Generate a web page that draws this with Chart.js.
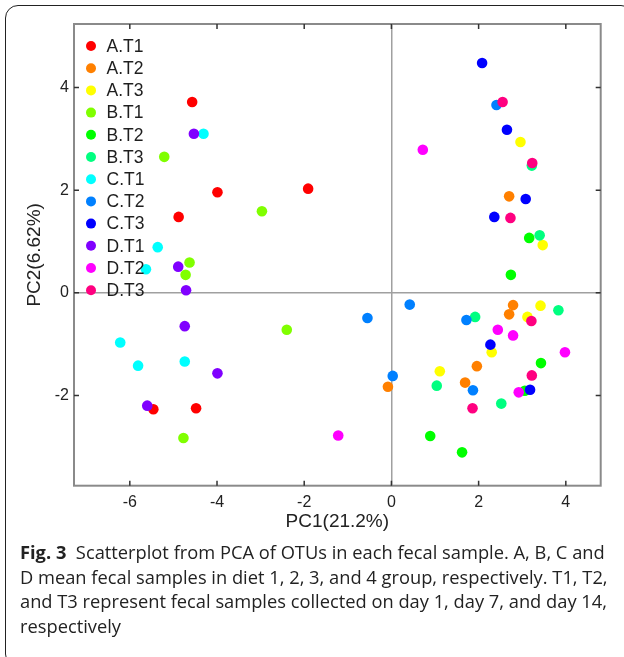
<!DOCTYPE html>
<html>
<head>
<meta charset="utf-8">
<script src="https://cdn.jsdelivr.net/npm/chart.js@4.4.1/dist/chart.umd.min.js"></script>
<style>
  html, body { margin: 0; padding: 0; background: #fff; }
  body { width: 624px; height: 657px; position: relative; overflow: hidden; }
  .frame {
    position: absolute; left: 5px; top: 5px; width: 629px; height: 662px;
    border: 1.5px solid #222; border-radius: 13px; box-sizing: border-box;
  }
  .plot { position: absolute; left: 0; top: 0; width: 624px; height: 540px; }
  .cap {
    position: absolute; left: 20px; top: 540px; width: 604px;
    font-family: "Open Sans", sans-serif; font-size: 18.3px; line-height: 24.7px;
    color: #222; white-space: nowrap;
  }
  .cap b { font-weight: 700; }
</style>
</head>
<body>
<div class="frame"></div>
<div class="plot"><canvas id="chart"></canvas></div>
<div class="cap"><b>Fig. 3</b>&nbsp; Scatterplot from PCA of OTUs in each fecal sample. A, B, C and<br>D mean fecal samples in diet 1, 2, 3, and 4 group, respectively. T1, T2,<br>and T3 represent fecal samples collected on day 1, day 7, and day 14,<br>respectively</div>
<script>
const groups = ['A.T1', 'A.T2', 'A.T3', 'B.T1', 'B.T2', 'B.T3', 'C.T1', 'C.T2', 'C.T3', 'D.T1', 'D.T2', 'D.T3'];
const colors = ['#ff0000', '#ff8000', '#ffff00', '#80ff00', '#00ff00', '#00ff80',
                '#00ffff', '#0080ff', '#0000ff', '#8000ff', '#ff00ff', '#ff0080'];

// PC1 / PC2 scores, one array per group (6 samples each)
const pc1 = [
    [-4.57, -3.99, -1.91, -4.88, -5.46, -4.48],   // A.T1
    [2.70, 2.79, 2.70, 1.96, -0.08, 1.69],        // A.T2
    [2.96, 3.47, 3.42, 3.12, 2.30, 1.11],         // A.T3
    [-5.21, -2.97, -4.63, -4.72, -2.40, -4.77],   // B.T1
    [3.16, 2.74, 3.43, 3.06, 0.89, 1.62],         // B.T2
    [3.22, 3.40, 3.83, 1.92, 1.04, 2.52],         // B.T3
    [-4.31, -5.36, -5.63, -6.22, -5.81, -4.74],   // C.T1
    [2.41, 0.42, -0.55, 1.72, 0.03, 1.87],        // C.T2
    [2.08, 2.65, 3.08, 2.36, 2.27, 3.18],         // C.T3
    [-4.53, -4.89, -4.71, -4.74, -3.99, -5.60],   // D.T1
    [0.72, 2.44, 2.79, 3.98, 2.92, -1.22],        // D.T2
    [2.55, 3.23, 2.73, 3.21, 3.22, 1.86]          // D.T3
];
const pc2 = [
    [3.72, 1.96, 2.03, 1.48, -2.27, -2.25],
    [1.88, -0.24, -0.42, -1.43, -1.83, -1.75],
    [2.94, 0.93, -0.25, -0.47, -1.16, -1.53],
    [2.65, 1.59, 0.59, 0.35, -0.72, -2.83],
    [1.07, 0.35, -1.37, -1.91, -2.79, -3.11],
    [2.48, 1.12, -0.34, -0.47, -1.81, -2.16],
    [3.10, 0.89, 0.46, -0.97, -1.42, -1.34],
    [3.66, -0.23, -0.49, -0.53, -1.62, -1.90],
    [4.48, 3.18, 1.83, 1.48, -1.01, -1.89],
    [3.10, 0.51, 0.05, -0.65, -1.57, -2.20],
    [2.79, -0.72, -0.83, -1.16, -1.94, -2.78],
    [3.72, 2.53, 1.46, -0.55, -1.61, -2.25]
];

const xTicks = [-6, -4, -2, 0, 2, 4];
const yTicks = [-2, 0, 2, 4];
const xRange = [-7.28, 4.8];
const yRange = [-3.76, 5.24];

const family = '"Liberation Sans", Arial, sans-serif';
const tickFont = { family, size: 16 };
const titleFont = { family, size: 19 };

// MATLAB-like box with inward ticks on all sides
const boxPlugin = {
    id: 'box',
    afterDraw(chart) {
        const { ctx, chartArea: a, scales: { x, y } } = chart;
        ctx.save();
        ctx.strokeStyle = '#8a8a8a';
        ctx.lineWidth = 2;
        ctx.strokeRect(a.left, a.top, a.right - a.left, a.bottom - a.top);
        ctx.strokeStyle = '#333';
        ctx.lineWidth = 1.5;
        ctx.beginPath();
        xTicks.forEach(v => {
            const px = x.getPixelForValue(v);
            ctx.moveTo(px, a.bottom); ctx.lineTo(px, a.bottom - 5);
            ctx.moveTo(px, a.top); ctx.lineTo(px, a.top + 5);
        });
        yTicks.forEach(v => {
            const py = y.getPixelForValue(v);
            ctx.moveTo(a.left, py); ctx.lineTo(a.left + 5, py);
            ctx.moveTo(a.right, py); ctx.lineTo(a.right - 5, py);
        });
        ctx.stroke();
        ctx.restore();
    }
};

// legend drawn inside the axes, top-left
const insideLegend = {
    id: 'insideLegend',
    afterDatasetsDraw(chart) {
        const { ctx } = chart;
        ctx.save();
        ctx.font = '17.5px ' + family;
        ctx.textBaseline = 'middle';
        chart.data.datasets.forEach((ds, i) => {
            const cy = 46 + i * 22.2;
            ctx.fillStyle = ds.backgroundColor;
            ctx.beginPath();
            ctx.arc(91, cy, 5, 0, Math.PI * 2);
            ctx.fill();
            ctx.fillStyle = '#1e1e1e';
            ctx.fillText(ds.label, 106.5, cy + 1);
        });
        ctx.restore();
    }
};

const datasets = groups.map((g, i) => ({
    label: g,
    data: pc1[i].map((v, k) => ({ x: v, y: pc2[i][k] })),
    backgroundColor: colors[i],
    borderWidth: 0,
    pointRadius: 5.3,
    order: groups.length - i
}));

new Chart(document.getElementById('chart'), {
    type: 'scatter',
    data: { datasets },
    options: {
        responsive: true,
        maintainAspectRatio: false,
        animation: false,
        layout: { padding: { top: 24, right: 23.3, left: 0, bottom: 0 } },
        plugins: { legend: { display: false }, tooltip: { enabled: false } },
        scales: {
            x: {
                min: xRange[0], max: xRange[1],
                afterBuildTicks: s => { s.ticks = xTicks.map(v => ({ value: v })); },
                afterFit: s => { s.height = 54.3; },
                border: { display: false },
                grid: {
                    drawTicks: false,
                    lineWidth: 1.5,
                    color: c => c.tick && c.tick.value === 0 ? '#a0a0a0' : 'rgba(0,0,0,0)'
                },
                ticks: { font: tickFont, color: '#222', padding: 7, maxRotation: 0 },
                title: { display: true, text: 'PC1(21.2%)', font: titleFont, color: '#222', padding: { bottom: 6.6, top: 0 } }
            },
            y: {
                min: yRange[0], max: yRange[1],
                afterBuildTicks: s => { s.ticks = yTicks.map(v => ({ value: v })); },
                afterFit: s => { s.width = 74; },
                border: { display: false },
                grid: {
                    drawTicks: false,
                    lineWidth: 1.5,
                    color: c => c.tick && c.tick.value === 0 ? '#a0a0a0' : 'rgba(0,0,0,0)'
                },
                ticks: { font: tickFont, color: '#222', padding: 5 },
                title: { display: true, text: 'PC2(6.62%)', font: titleFont, color: '#222', padding: { top: 23.6, bottom: 0 } }
            }
        }
    },
    plugins: [boxPlugin, insideLegend]
});
</script>
</body>
</html>
